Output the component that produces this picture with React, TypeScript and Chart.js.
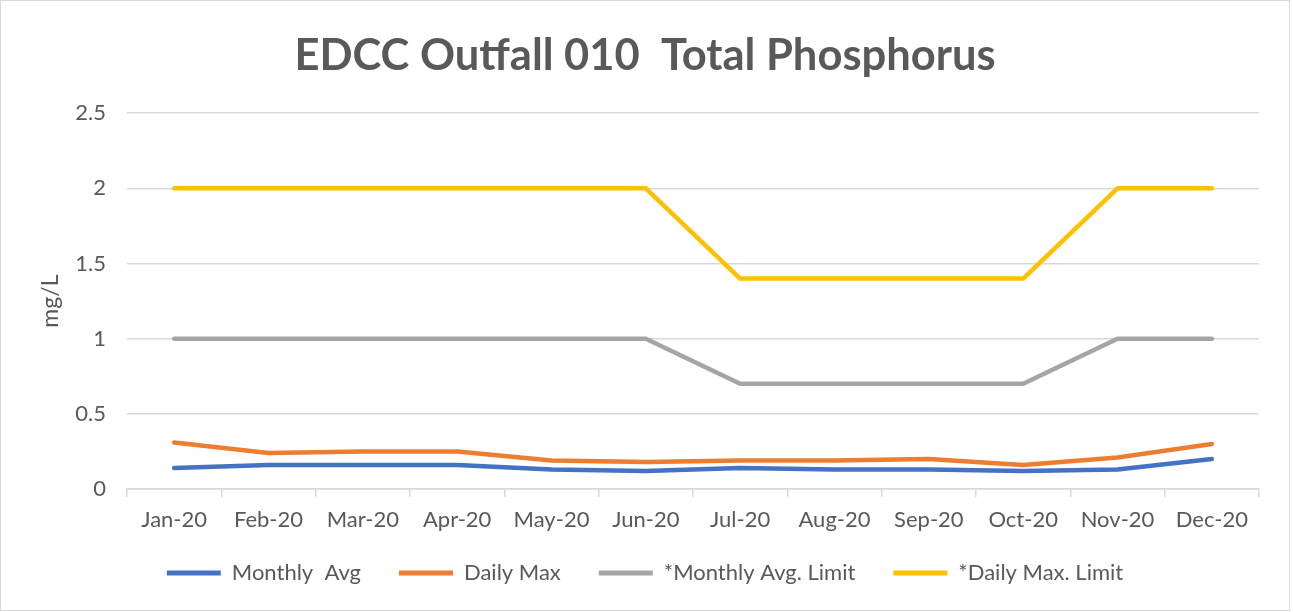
import React, { useEffect, useRef } from "react";
import { Chart, registerables } from "chart.js";

Chart.register(...registerables);

const chartTitle = "EDCC Outfall 010  Total Phosphorus";
const yAxisTitle = "mg/L";
const categories = ["Jan-20", "Feb-20", "Mar-20", "Apr-20", "May-20", "Jun-20", "Jul-20", "Aug-20", "Sep-20", "Oct-20", "Nov-20", "Dec-20"];
const monthlyAvg = [0.14, 0.16, 0.16, 0.16, 0.13, 0.12, 0.14, 0.13, 0.13, 0.12, 0.13, 0.2];
const dailyMax = [0.31, 0.24, 0.25, 0.25, 0.19, 0.18, 0.19, 0.19, 0.2, 0.16, 0.21, 0.3];
const monthlyAvgLimit = [1, 1, 1, 1, 1, 1, 0.7, 0.7, 0.7, 0.7, 1, 1];
const dailyMaxLimit = [2, 2, 2, 2, 2, 2, 1.4, 1.4, 1.4, 1.4, 2, 2];
const seriesNames = ["Monthly  Avg", "Daily Max", "*Monthly Avg. Limit", "*Daily Max. Limit"];
const seriesColors = ["#4472c4", "#ed7d31", "#a5a5a5", "#ffc000"];
const yMin = 0;
const yMax = 2.5;
const yStep = 0.5;

const FONT = "Lato, 'Open Sans', sans-serif";
const TEXT = "#595959";
const GRID = "#d9d9d9";

const legendShift = {
  id: "legendShift",
  afterLayout(chart: any) {
    const lg = chart.legend;
    if (lg) {
      lg.top -= 11;
      lg.bottom -= 11;
    }
  },
};

export default function App() {
  const ref = useRef<HTMLCanvasElement | null>(null);

  useEffect(() => {
    if (!ref.current) return;
    const values = [monthlyAvg, dailyMax, monthlyAvgLimit, dailyMaxLimit];
    const chart = new Chart(ref.current, {
      type: "line",
      data: {
        labels: categories,
        datasets: values.map((v, i) => ({
          label: seriesNames[i],
          data: v,
          borderColor: seriesColors[i],
          backgroundColor: seriesColors[i],
          borderWidth: 4.5,
          pointRadius: 0,
          pointHoverRadius: 0,
          tension: 0,
          borderCapStyle: "round" as const,
          borderJoinStyle: "round" as const,
          fill: false,
          yAxisID: "y",
        })),
      },
      plugins: [legendShift],
      options: {
        responsive: false,
        animation: false,
        layout: { padding: { left: 0, right: 0, top: 0, bottom: 5 } },
        plugins: {
          title: {
            display: true,
            text: chartTitle,
            color: TEXT,
            font: { family: FONT, size: 43.5, weight: "bold" },
            padding: { top: 29, bottom: 31 },
          },
          legend: {
            position: "bottom",
            labels: {
              color: TEXT,
              font: { family: FONT, size: 22 },
              boxWidth: 54,
              boxHeight: 5,
              padding: 38,
              generateLabels: (c: any) =>
                c.data.datasets.map((d: any, i: number) => ({
                  text: d.label,
                  fillStyle: d.borderColor,
                  strokeStyle: d.borderColor,
                  lineWidth: 0,
                  hidden: false,
                  datasetIndex: i,
                  fontColor: TEXT,
                })),
            },
          },
          tooltip: { enabled: false },
        },
        scales: {
          x: {
            offset: true,
            afterFit: (s: any) => {
              s.height = 46;
            },
            grid: {
              display: true,
              drawOnChartArea: false,
              drawTicks: true,
              tickLength: 8,
              offset: true,
              color: GRID,
              lineWidth: 1.5,
            },
            border: { display: true, color: GRID, width: 1.5 },
            ticks: {
              color: TEXT,
              font: { family: FONT, size: 22 },
              padding: 10,
              maxRotation: 0,
              autoSkip: false,
            },
          },
          y: {
            min: yMin,
            max: yMax,
            afterFit: (s: any) => {
              s.width = 126;
            },
            grid: { color: GRID, lineWidth: 1.5, drawTicks: false },
            border: { display: false },
            ticks: {
              stepSize: yStep,
              color: TEXT,
              font: { family: FONT, size: 22 },
              padding: 21,
              callback: (v: any) => String(Number(v)),
            },
            title: {
              display: true,
              text: yAxisTitle,
              color: TEXT,
              font: { family: FONT, size: 23 },
              padding: { top: 36, bottom: 0 },
            },
          },
          yRightSpace: {
            position: "right",
            min: yMin,
            max: yMax,
            display: true,
            afterFit: (s: any) => {
              s.width = 30;
            },
            grid: { display: false, drawTicks: false },
            border: { display: false },
            ticks: { display: false },
          },
        },
      },
    });
    return () => chart.destroy();
  }, []);

  return (
    <div
      style={{
        position: "absolute",
        left: 0,
        top: 0,
        width: 1290,
        height: 611,
        border: "1px solid #d9d9d9",
        boxSizing: "border-box",
        overflow: "hidden",
        background: "#ffffff",
      }}
    >
      <canvas ref={ref} width={1288} height={609} style={{ display: "block" }} />
    </div>
  );
}
